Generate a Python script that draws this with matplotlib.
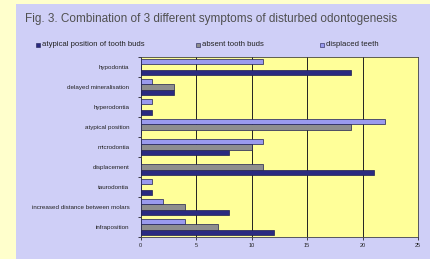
import matplotlib
matplotlib.use("Agg")
import matplotlib.pyplot as plt
from matplotlib.patches import Rectangle
import numpy as np

categories = ["hypodontia", "delayed mineralisation", "hyperodontia", "atypical position",
              "microdontia", "displacement", "taurodontia",
              "increased distance between molars", "infraposition"]
atypical_buds = [19, 3, 1, 0, 8, 21, 1, 8, 12]
absent_buds = [0, 3, 0, 19, 10, 11, 0, 4, 7]
displaced = [11, 1, 1, 22, 11, 0, 1, 2, 4]
series_names = ["atypical position of tooth buds", "absent tooth buds", "displaced teeth"]
xticks = [0, 5, 10, 15, 20, 25]

plt.rcParams['font.family'] = ['Liberation Sans', 'DejaVu Sans']

fig = plt.figure(figsize=(4.3, 2.59), dpi=100)
fig.patch.set_facecolor("#FFFFCC")
fig.patches.append(Rectangle((16/430, 0), 1, 1 - 4/259, transform=fig.transFigure,
                             facecolor="#CFCFF7", edgecolor="none", zorder=-5))

ax = fig.add_axes([140.5/430, 1 - 237/259, (418 - 140.5)/430, (237 - 57)/259])
ax.set_zorder(2)
ax.set_facecolor("#FFFF99")

n = len(categories)
ypos = np.arange(n)[::-1]
h = 0.28
colors = ["#2A2A80", "#8E8E8E", "#9A9AEE"]
for k, (vals, c) in enumerate(zip([atypical_buds, absent_buds, displaced], colors)):
    ax.barh(ypos + (k - 1) * h, vals, height=h, color=c, edgecolor="#1E1E50",
            linewidth=0.5, zorder=3, label=series_names[k])

ax.set_xlim(0, 25)
ax.set_ylim(-0.5, n - 0.5)
ax.set_xticks(xticks)
ax.set_xticklabels([str(t) for t in xticks], fontsize=4, color="#222222")
ax.grid(axis="x", color="#222222", linewidth=0.7, zorder=1)
ax.set_yticks(np.arange(-0.5, n, 1.0))
ax.set_yticklabels([])
ax.set_yticks(ypos, minor=True)
ax.set_yticklabels(categories, minor=True, fontsize=4.5, color="#222222")
ax.tick_params(axis="y", which="minor", length=0, pad=8)
ax.tick_params(axis="y", which="major", length=2, width=0.5)
ax.tick_params(axis="x", length=2, width=0.5, pad=2)
for s in ax.spines.values():
    s.set_color("#444444")
    s.set_linewidth(0.6)

fig.text(25/430, 1 - 19/259, "Fig. 3. Combination of 3 different symptoms of disturbed odontogenesis",
         fontsize=8.5, color="#505050", va="center", ha="left")

leg_x = [36, 196, 320]
for k in range(3):
    fig.patches.append(Rectangle((leg_x[k]/430, 1 - 46.5/259), 4/430, 4/259,
                                 transform=fig.transFigure, facecolor=colors[k],
                                 edgecolor="#1E1E50", linewidth=0.4, zorder=1))
    fig.text((leg_x[k] + 6)/430, 1 - 44.5/259, series_names[k], fontsize=5.6,
             color="#222222", va="center", ha="left")

fig.savefig("out.png", dpi=100, facecolor=fig.get_facecolor())
